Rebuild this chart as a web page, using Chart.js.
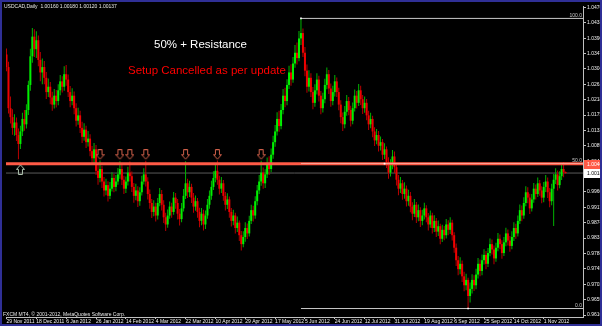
<!DOCTYPE html>
<html>
<head>
<meta charset="utf-8">
<title>USDCAD Daily</title>
<script src="https://cdn.jsdelivr.net/npm/chart.js@4.4.1/dist/chart.umd.min.js"></script>
<style>
    html, body { margin: 0; padding: 0; background: #000; }
    canvas { display: block; }
</style>
</head>
<body>
<canvas id="priceChart" width="602" height="326"></canvas>
<script>
/* Price Data - USDCAD daily bars, 29 Nov 2011 to mid Nov 2012 */

const symbolName = "USDCAD,Daily";
const firstOpen = 1.0345;

const closes = [
    1.0310,1.0195,1.0170,1.0140,1.0155,1.0120,1.0095,1.0130,1.0165,1.0150,1.0190,1.0260,1.0340,1.0395,1.0360,
    1.0385,1.0330,1.0295,1.0310,1.0280,1.0240,1.0255,1.0225,1.0205,1.0230,1.0215,1.0245,1.0270,1.0255,1.0290,
    1.0275,1.0240,1.0215,1.0230,1.0195,1.0160,1.0175,1.0140,1.0115,1.0135,1.0100,1.0110,1.0075,1.0055,1.0080,
    1.0020,1.0000,1.0025,0.9990,0.9965,0.9980,0.9950,0.9970,1.0000,0.9975,0.9990,1.0010,1.0025,0.9995,0.9970,
    0.9990,1.0015,1.0005,0.9975,0.9950,0.9965,0.9935,0.9960,0.9990,1.0010,0.9990,0.9955,0.9930,0.9905,0.9920,
    0.9895,0.9930,0.9955,0.9925,0.9890,0.9870,0.9895,0.9920,0.9905,0.9945,0.9930,0.9900,0.9885,0.9915,0.9950,
    0.9985,0.9960,0.9975,0.9945,0.9920,0.9935,0.9905,0.9880,0.9900,0.9870,0.9895,0.9925,0.9950,0.9975,1.0000,
    1.0020,0.9995,0.9970,0.9985,0.9950,0.9925,0.9940,0.9905,0.9880,0.9895,0.9860,0.9875,0.9840,0.9815,0.9835,
    0.9860,0.9845,0.9880,0.9910,0.9895,0.9935,0.9965,0.9990,1.0015,0.9985,1.0010,1.0040,1.0025,1.0065,1.0100,
    1.0130,1.0165,1.0145,1.0190,1.0230,1.0215,1.0260,1.0295,1.0275,1.0320,1.0350,1.0335,1.0390,1.0405,1.0350,
    1.0300,1.0255,1.0280,1.0240,1.0210,1.0245,1.0275,1.0230,1.0195,1.0220,1.0260,1.0290,1.0250,1.0215,1.0240,
    1.0270,1.0240,1.0205,1.0170,1.0150,1.0185,1.0215,1.0190,1.0160,1.0195,1.0230,1.0210,1.0245,1.0220,1.0195,
    1.0210,1.0175,1.0150,1.0165,1.0130,1.0105,1.0120,1.0090,1.0100,1.0065,1.0080,1.0045,1.0015,1.0035,1.0060,
    1.0030,0.9995,0.9970,0.9985,0.9955,0.9970,0.9935,0.9950,0.9920,0.9900,0.9925,0.9890,0.9910,0.9880,0.9895,
    0.9915,0.9890,0.9870,0.9895,0.9860,0.9880,0.9850,0.9865,0.9830,0.9855,0.9840,0.9870,0.9855,0.9875,0.9840,
    0.9805,0.9770,0.9745,0.9760,0.9725,0.9700,0.9715,0.9670,0.9690,0.9715,0.9700,0.9730,0.9760,0.9740,0.9770,
    0.9785,0.9760,0.9790,0.9815,0.9800,0.9775,0.9805,0.9830,0.9815,0.9790,0.9820,0.9845,0.9825,0.9810,0.9835,
    0.9860,0.9845,0.9880,0.9910,0.9895,0.9930,0.9960,0.9945,0.9915,0.9940,0.9970,0.9955,0.9985,0.9965,0.9945,
    0.9975,0.9990,0.9960,0.9935,0.9970,0.9995,1.0010,0.9980,1.0005,1.0025,1.0016,1.00137
];

const highs = [
    1.0362,1.0325,1.0228,1.0192,1.0178,1.0169,1.0138,1.0146,1.0182,1.0190,1.0206,1.0272,1.0361,1.0419,1.0416,
    1.0410,1.0398,1.0352,1.0334,1.0327,1.0296,1.0278,1.0268,1.0241,1.0249,1.0246,1.0262,1.0288,1.0284,1.0312,
    1.0316,1.0289,1.0257,1.0251,1.0242,1.0209,1.0196,1.0188,1.0157,1.0153,1.0146,1.0131,1.0122,1.0089,1.0098,
    1.0092,1.0038,1.0049,1.0034,1.0003,0.9998,0.9991,0.9989,1.0016,1.0011,1.0008,1.0028,1.0047,1.0036,1.0006,
    1.0004,1.0031,1.0046,1.0018,0.9986,0.9984,0.9977,0.9974,1.0006,1.0027,1.0048,1.0002,0.9968,0.9941,0.9938,
    0.9931,0.9944,0.9972,0.9966,0.9938,0.9903,0.9912,0.9934,0.9931,0.9961,0.9958,0.9941,0.9913,0.9930,0.9969,
    1.0047,0.9998,0.9992,0.9984,0.9958,0.9951,0.9944,0.9917,0.9916,0.9911,0.9909,0.9941,0.9965,0.9992,1.0019,
    1.0036,1.0049,1.0006,1.0003,0.9994,0.9961,0.9957,0.9948,0.9916,0.9911,0.9903,0.9892,0.9881,0.9852,0.9851,
    0.9876,0.9873,0.9894,0.9925,0.9922,0.9949,0.9980,1.0008,1.0048,1.0029,1.0024,1.0057,1.0061,1.0082,1.0118,
    1.0148,1.0184,1.0188,1.0207,1.0249,1.0252,1.0276,1.0314,1.0318,1.0338,1.0372,1.0379,1.0411,1.0446,1.0418,
    1.0366,1.0317,1.0301,1.0293,1.0254,1.0262,1.0293,1.0286,1.0243,1.0238,1.0277,1.0309,1.0302,1.0264,1.0258,
    1.0288,1.0281,1.0252,1.0217,1.0183,1.0201,1.0232,1.0226,1.0202,1.0211,1.0247,1.0243,1.0263,1.0258,1.0232,
    1.0228,1.0221,1.0188,1.0182,1.0174,1.0142,1.0137,1.0131,1.0116,1.0109,1.0097,1.0088,1.0058,1.0052,1.0078,
    1.0074,1.0041,1.0008,1.0003,0.9994,0.9988,0.9979,0.9967,0.9961,0.9932,0.9941,0.9933,0.9926,0.9918,0.9911,
    0.9931,0.9924,0.9902,0.9909,0.9903,0.9896,0.9888,0.9881,0.9872,0.9869,0.9866,0.9885,0.9882,0.9890,0.9883,
    0.9848,0.9817,0.9782,0.9778,0.9769,0.9738,0.9732,0.9721,0.9708,0.9731,0.9728,0.9746,0.9776,0.9772,0.9786,
    0.9801,0.9796,0.9804,0.9831,0.9828,0.9811,0.9819,0.9846,0.9842,0.9826,0.9835,0.9861,0.9856,0.9838,0.9851,
    0.9876,0.9872,0.9895,0.9926,0.9923,0.9946,0.9977,0.9974,0.9956,0.9955,0.9986,0.9982,1.0001,0.9994,0.9977,
    0.9989,1.0008,1.0001,0.9972,0.9984,1.0011,1.0027,1.0021,1.0019,1.0039,1.0044,1.0018
];

const lows = [
    1.0298,1.0180,1.0152,1.0121,1.0118,1.0103,1.0052,1.0081,1.0117,1.0132,1.0138,1.0176,1.0244,1.0322,1.0338,
    1.0335,1.0312,1.0270,1.0262,1.0262,1.0221,1.0226,1.0206,1.0188,1.0194,1.0197,1.0203,1.0231,1.0239,1.0244,
    1.0258,1.0226,1.0198,1.0203,1.0178,1.0144,1.0149,1.0126,1.0098,1.0104,1.0084,1.0088,1.0061,1.0036,1.0041,
    1.0008,0.9981,0.9988,0.9972,0.9948,0.9952,0.9934,0.9941,0.9962,0.9960,0.9963,0.9981,0.9998,0.9980,0.9955,
    0.9958,0.9979,0.9990,0.9961,0.9931,0.9938,0.9919,0.9922,0.9951,0.9982,0.9976,0.9940,0.9914,0.9888,0.9893,
    0.9878,0.9884,0.9921,0.9909,0.9874,0.9852,0.9861,0.9886,0.9889,0.9897,0.9914,0.9884,0.9867,0.9876,0.9906,
    0.9941,0.9944,0.9947,0.9930,0.9903,0.9908,0.9889,0.9862,0.9868,0.9853,0.9857,0.9886,0.9914,0.9939,0.9966,
    0.9988,0.9981,0.9954,0.9958,0.9936,0.9909,0.9913,0.9889,0.9864,0.9868,0.9845,0.9849,0.9824,0.9797,0.9806,
    0.9822,0.9829,0.9836,0.9871,0.9878,0.9886,0.9924,0.9955,0.9978,0.9970,0.9972,1.0000,1.0008,1.0016,1.0054,
    1.0087,1.0119,1.0129,1.0136,1.0178,1.0198,1.0203,1.0249,1.0258,1.0266,1.0308,1.0317,1.0326,1.0372,1.0338,
    1.0284,1.0238,1.0242,1.0226,1.0192,1.0199,1.0233,1.0214,1.0178,1.0183,1.0209,1.0248,1.0235,1.0199,1.0203,
    1.0228,1.0226,1.0189,1.0153,1.0131,1.0139,1.0174,1.0175,1.0144,1.0150,1.0186,1.0194,1.0201,1.0204,1.0179,
    1.0182,1.0161,1.0134,1.0139,1.0114,1.0089,1.0094,1.0074,1.0077,1.0050,1.0053,1.0028,0.9998,1.0004,1.0024,
    1.0014,0.9979,0.9952,0.9958,0.9939,0.9942,0.9920,0.9922,0.9904,0.9882,0.9891,0.9874,0.9879,0.9863,0.9868,
    0.9884,0.9876,0.9853,0.9861,0.9845,0.9849,0.9835,0.9838,0.9815,0.9821,0.9826,0.9831,0.9840,0.9843,0.9825,
    0.9791,0.9754,0.9728,0.9731,0.9709,0.9683,0.9686,0.9635,0.9652,0.9677,0.9684,0.9689,0.9719,0.9725,0.9728,
    0.9758,0.9745,0.9751,0.9781,0.9786,0.9759,0.9766,0.9795,0.9801,0.9774,0.9782,0.9809,0.9811,0.9794,0.9801,
    0.9824,0.9830,0.9836,0.9871,0.9879,0.9886,0.9921,0.9929,0.9899,0.9906,0.9931,0.9940,0.9947,0.9950,0.9929,
    0.9932,0.9961,0.9944,0.9918,0.9924,0.9866,0.9983,0.9965,0.9971,0.9994,1.0002,1.0012
];

/* Axis ticks */

const xTickBars = [0, 15, 30, 45, 60, 75, 90, 105, 120, 135, 150, 165, 180, 195, 210, 225, 240, 255, 270];
const xTickLabels = [
    "29 Nov 2011", "18 Dec 2011", "6 Jan 2012", "26 Jan 2012", "14 Feb 2012", "4 Mar 2012",
    "22 Mar 2012", "10 Apr 2012", "29 Apr 2012", "17 May 2012", "5 Jun 2012", "24 Jun 2012",
    "12 Jul 2012", "31 Jul 2012", "19 Aug 2012", "6 Sep 2012", "25 Sep 2012", "14 Oct 2012", "1 Nov 2012"
];
const yTickValues = [
    0.96168, 0.96598, 0.97028, 0.97458, 0.97888, 0.98318, 0.98748, 0.99178, 0.99608, 1.00038, 1.00468,
    1.00898, 1.01328, 1.01758, 1.02188, 1.02618, 1.03048, 1.03478, 1.03908, 1.04338, 1.04768
];

/* Objects on the chart */

const resistanceLevel = 1.0040;
const bidPrice = 1.00137;
const fiboHighBar = 148, fiboHigh = 1.0446;
const fiboLowBar = 232, fiboLow = 0.9635;
const fiboLevels = [100, 50, 0];
const lineAnchorBar = 190;
const touchArrowBars = [47, 57, 62, 70, 90, 106, 128];
const touchArrowPrice = 1.0065;
const supportArrowBars = [7];
const supportArrowPrice = 1.0024;

const noteTitle = "50% + Resistance";
const noteStatus = "Setup Cancelled as per update";
const copyrightText = "FXCM MT4, \u00a9 2001-2012, MetaQuotes Software Corp.";


/* Derived series */

const lastBar = closes.length - 1;
const opens = closes.map((c, i) => i === 0 ? firstOpen : closes[i - 1]);
const isBull = closes.map((c, i) => c >= opens[i]);

const bodyColors = isBull.map(b => b ? "#00f000" : "#f00000");
const wickColors = isBull.map(b => b ? "#00b400" : "#b80000");

const wickData = closes.map((c, i) => ({ x: i, y: [lows[i], highs[i]] }));
const bodyData = closes.map((c, i) => ({ x: i, y: [opens[i], c] }));

const headerText = symbolName + "  " + [opens[lastBar], highs[lastBar], lows[lastBar], closes[lastBar]]
    .map(v => v.toFixed(5)).join(" ");

const fiboPrice = level => fiboLow + (fiboHigh - fiboLow) * level / 100;

const xMin = -0.25, xMax = 289.75;
const yMin = 0.96113, yMax = 1.04807;

const hLine = (from, to, price) => [{ x: from, y: price }, { x: to, y: price }];


/* Arrow symbols */

function makeArrow(color, pointsUp) {
    const cv = document.createElement("canvas");
    cv.width = 9;
    cv.height = 11;
    const c = cv.getContext("2d");
    const pts = [[2.5, 0.5], [6.5, 0.5], [6.5, 5.5], [8.5, 5.5], [4.5, 10], [0.5, 5.5], [2.5, 5.5]];
    c.strokeStyle = color;
    c.lineWidth = 1;
    c.beginPath();
    pts.forEach(([px, py], k) => {
        const yy = pointsUp ? 11 - py : py;
        if (k === 0) c.moveTo(px, yy); else c.lineTo(px, yy);
    });
    c.closePath();
    c.stroke();
    return cv;
}

const arrowDown = makeArrow("#d0604a", false);
const arrowUp = makeArrow("#b0c4b0", true);


/* Decorations */

function priceBox(c, left, y, text, fill, ink) {
    c.fillStyle = fill;
    c.fillRect(left, Math.round(y) - 4, 20, 9);
    c.fillStyle = ink;
    c.textAlign = "left";
    c.textBaseline = "middle";
    c.font = "5px 'Liberation Sans', Arial, sans-serif";
    c.fillText(text, left + 3, Math.round(y) + 0.5);
}

const decor = {
    id: "decor",
    beforeDraw(chart) {
        const c = chart.ctx;
        c.save();
        c.fillStyle = "#000000";
        c.fillRect(0, 0, chart.width, chart.height);
        c.restore();
    },
    afterDraw(chart) {
        const c = chart.ctx;
        const area = chart.chartArea;
        const yScale = chart.scales.y;
        c.save();

        c.textBaseline = "alphabetic";
        c.font = "5px 'Liberation Sans', Arial, sans-serif";
        c.fillStyle = "#e8e8e8";
        c.textAlign = "left";
        c.fillText(headerText, 4, 8);
        c.fillText(copyrightText, 3, 315.5);

        c.textAlign = "right";
        c.fillStyle = "#c8c8c8";
        fiboLevels.forEach(level => {
            c.fillText(level.toFixed(1), area.right - 1, yScale.getPixelForValue(fiboPrice(level)) - 1.5);
        });

        c.textAlign = "left";
        c.font = "11.5px 'Liberation Sans', Arial, sans-serif";
        c.fillStyle = "#ffffff";
        c.fillText(noteTitle, 154, 47.5);
        c.fillStyle = "#ff0000";
        c.fillText(noteStatus, 128, 74);

        priceBox(c, area.right + 1, yScale.getPixelForValue(resistanceLevel), resistanceLevel.toFixed(5), "#ff5a46", "#ffffff");
        priceBox(c, area.right + 1, yScale.getPixelForValue(bidPrice), bidPrice.toFixed(5), "#ffffff", "#000000");

        c.strokeStyle = "#2f2f96";
        c.lineWidth = 2;
        c.strokeRect(1, 1, chart.width - 2, chart.height - 2);
        c.restore();
    }
};


/* Create Chart */

Chart.defaults.font.family = "'Liberation Sans', Arial, sans-serif";
Chart.defaults.color = "#f0f0f0";

const ctx = document.getElementById("priceChart");

const priceChart = new Chart(ctx, {

    type: "bar",

    data: {
        datasets: [
            {
                type: "line",
                label: "Bid",
                data: hLine(xMin, xMax, bidPrice),
                borderColor: "#5a5a5a",
                borderWidth: 1,
                pointRadius: 0,
                order: 9
            },
            {
                label: "Wicks",
                data: wickData,
                backgroundColor: wickColors,
                barThickness: 1,
                grouped: false,
                inflateAmount: 0,
                order: 8
            },
            {
                label: "Bodies",
                data: bodyData,
                backgroundColor: bodyColors,
                barThickness: 2,
                minBarLength: 1,
                grouped: false,
                inflateAmount: 0,
                order: 7
            },
            {
                type: "line",
                label: "Resistance",
                data: hLine(xMin, xMax, resistanceLevel),
                borderColor: "#ff5a46",
                borderWidth: 3,
                pointRadius: 0,
                order: 3
            },
            ...fiboLevels.map(level => ({
                type: "line",
                label: "Fibo " + level,
                data: hLine(fiboHighBar, xMax, fiboPrice(level)),
                borderColor: level === 50 ? "rgba(255,175,165,0.85)" : "#c8c8c8",
                borderWidth: 1,
                pointRadius: 0,
                order: 2
            })),
            {
                type: "line",
                label: "Anchors",
                showLine: false,
                data: [
                    { x: fiboHighBar, y: fiboHigh },
                    { x: fiboLowBar, y: fiboLow },
                    { x: lineAnchorBar, y: resistanceLevel }
                ],
                pointStyle: "rect",
                pointRadius: 1.2,
                pointBackgroundColor: "#ffffff",
                pointBorderWidth: 0,
                order: 1
            },
            {
                type: "line",
                label: "Touches",
                showLine: false,
                data: touchArrowBars.map(b => ({ x: b, y: touchArrowPrice })),
                pointStyle: arrowDown,
                pointRadius: 5,
                order: 0
            },
            {
                type: "line",
                label: "Support",
                showLine: false,
                data: supportArrowBars.map(b => ({ x: b, y: supportArrowPrice })),
                pointStyle: arrowUp,
                pointRadius: 5,
                order: 0
            }
        ]
    },

    options: {
        responsive: false,
        animation: false,
        devicePixelRatio: 1,
        events: [],
        layout: { padding: { left: 3, top: 3, right: 0, bottom: 0 } },
        plugins: {
            legend: { display: false },
            tooltip: { enabled: false }
        },
        scales: {
            x: {
                type: "linear",
                min: xMin,
                max: xMax,
                offset: false,
                afterFit: scale => { scale.height = 9; },
                afterBuildTicks: scale => { scale.ticks = xTickBars.map(v => ({ value: v })); },
                border: { display: true, color: "#c0c0c0", width: 1 },
                grid: { display: true, drawOnChartArea: false, drawTicks: true, tickLength: 2, color: "#c0c0c0", offset: false },
                ticks: {
                    autoSkip: false,
                    maxRotation: 0,
                    align: "start",
                    padding: 0,
                    font: { size: 5 },
                    callback: v => xTickLabels[xTickBars.indexOf(v)] ?? ""
                }
            },
            y: {
                type: "linear",
                position: "right",
                min: yMin,
                max: yMax,
                afterFit: scale => { scale.width = 19; },
                afterBuildTicks: scale => { scale.ticks = yTickValues.map(v => ({ value: v })); },
                border: { display: true, color: "#c0c0c0", width: 1 },
                grid: { display: true, drawOnChartArea: false, drawTicks: true, tickLength: 3, color: "#c0c0c0" },
                ticks: {
                    padding: 1,
                    font: { size: 5 },
                    callback: v => Number(v).toFixed(5)
                }
            }
        }
    },

    plugins: [decor]

});
</script>
</body>
</html>
